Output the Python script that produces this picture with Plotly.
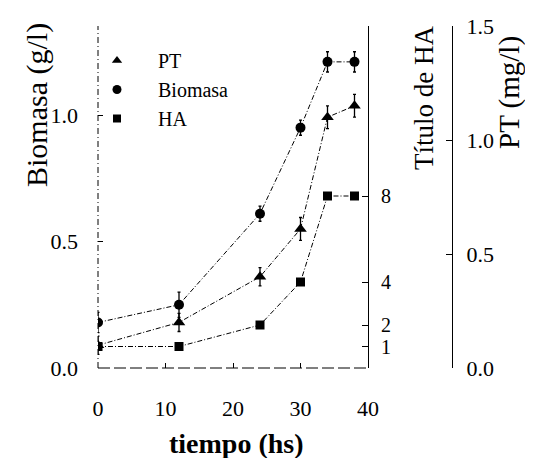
import plotly.graph_objects as go

# ---- data ----
tiempo = [0, 12, 24, 30, 34, 38]
biomasa = [0.18, 0.25, 0.61, 0.95, 1.21, 1.21]
biomasa_err = [0.04, 0.05, 0.03, 0.03, 0.04, 0.04]
pt = [0.10, 0.20, 0.40, 0.61, 1.10, 1.15]
pt_err = [0.04, 0.04, 0.04, 0.05, 0.05, 0.05]
ha = [1, 1, 2, 4, 8, 8]

x_ticks = [0, 10, 20, 30, 40]
y_ticks = [0.0, 0.5, 1.0]
y_ticktext = ["0.0", "0.5", "1.0"]
ha_ticks = [1, 2, 4, 8]
pt_ticks = [0.0, 0.5, 1.0, 1.5]
pt_ticktext = ["0.0", "0.5", "1.0", "1.5"]

W, H = 533, 458
OFF = 8  # page body margin
FONT = "Liberation Serif"


def X(px):
    return (px - OFF) / W


def Y(py):
    return 1 - (py - OFF) / H


px0, px1, px_pt = 98, 368, 452
py_bot, py_top = 368, 26
xdom = [X(px0), X(px1)]
ydom = [Y(py_bot), Y(py_top)]

line_style = dict(color="black", width=1, dash="5px,2px,1px,2px")

fig = go.Figure()

# Biomasa
fig.add_trace(go.Scatter(
    x=tiempo, y=biomasa, mode="lines+markers", yaxis="y",
    line=line_style,
    marker=dict(symbol="circle", size=10, color="black"),
    error_y=dict(type="data", array=biomasa_err, color="black", thickness=1.3, width=1.5),
    showlegend=False))
# PT
fig.add_trace(go.Scatter(
    x=tiempo, y=pt, mode="lines+markers", yaxis="y3",
    line=line_style,
    marker=dict(symbol="triangle-up", size=11, color="black"),
    error_y=dict(type="data", array=pt_err, color="black", thickness=1.3, width=1.5),
    showlegend=False))
# HA
fig.add_trace(go.Scatter(
    x=tiempo, y=ha, mode="lines+markers", yaxis="y2",
    line=line_style,
    marker=dict(symbol="square", size=9, color="black"),
    showlegend=False))

# legend-only entries
for name, sym, size in [("PT", "triangle-up", 9), ("Biomasa", "circle", 9), ("HA", "square", 8)]:
    fig.add_trace(go.Scatter(x=[None], y=[None], mode="markers", name=name,
                             marker=dict(symbol=sym, size=size, color="black")))

tickfont = dict(family=FONT, size=22, color="black")

fig.update_layout(
    width=W, height=H,
    margin=dict(l=0, r=0, t=0, b=0),
    paper_bgcolor="white", plot_bgcolor="white",
    font=dict(family=FONT, color="black"),
    xaxis=dict(domain=xdom, range=[0, 40], tickvals=x_ticks, ticks="inside",
               ticklen=5, tickcolor="black", showgrid=False, zeroline=False,
               showline=False, tickfont=tickfont, ticklabelstandoff=25,
               anchor="y", automargin=False),
    yaxis=dict(domain=ydom, range=[0, (py_bot - py_top) / 253.0], tickvals=y_ticks,
               ticktext=y_ticktext, ticks="inside", ticklen=5, tickcolor="black",
               showgrid=False, zeroline=False, showline=False, tickfont=tickfont,
               ticklabelstandoff=19, anchor="x", automargin=False),
    yaxis2=dict(overlaying="y", anchor="free", position=X(px1), side="right",
                range=[0, (py_bot - py_top) / 21.5], tickvals=ha_ticks,
                ticks="inside", ticklen=6, tickcolor="black", showgrid=False,
                zeroline=False, showline=True, linecolor="black", linewidth=1,
                tickfont=dict(family=FONT, size=20, color="black"),
                ticklabelstandoff=8, automargin=False),
    yaxis3=dict(overlaying="y", anchor="free", position=X(px_pt), side="right",
                range=[0, 1.5], tickvals=pt_ticks, ticktext=pt_ticktext,
                ticks="inside", ticklen=6, tickcolor="black", showgrid=False,
                zeroline=False, showline=True, linecolor="black", linewidth=1,
                tickfont=tickfont, ticklabelstandoff=9, automargin=False),
    legend=dict(x=X(76), y=Y(41), xanchor="left", yanchor="top",
                bgcolor="rgba(0,0,0,0)", font=dict(family=FONT, size=20, color="black"),
                itemwidth=72, tracegroupgap=0),
)

# axis lines (left & bottom) drawn as broken lines like the scan
fig.add_shape(type="line", xref="x domain", yref="y domain", x0=0, x1=0, y0=0, y1=1,
              line=dict(color="black", width=1, dash="6px,3px,1px,3px"))
fig.add_shape(type="line", xref="x domain", yref="y domain", x0=0, x1=1, y0=0, y1=0,
              line=dict(color="black", width=1, dash="12px,4px"))

# titles
ann = dict(xref="paper", yref="paper", showarrow=False, xanchor="center", yanchor="middle")
fig.add_annotation(text="Biomasa (g/l)", x=X(37), y=Y(105), textangle=-90,
                   font=dict(family=FONT, size=30, color="black"), **ann)
fig.add_annotation(text="<b>tiempo (hs)</b>", x=X(236), y=Y(443),
                   font=dict(family=FONT, size=28, color="black"), **ann)
fig.add_annotation(text="Título de HA", x=X(424), y=Y(98), textangle=-90,
                   font=dict(family=FONT, size=27, color="black"), **ann)
fig.add_annotation(text="PT (mg/l)", x=X(510), y=Y(93), textangle=-90,
                   font=dict(family=FONT, size=29, color="black"), **ann)

fig.write_html("out.html")
